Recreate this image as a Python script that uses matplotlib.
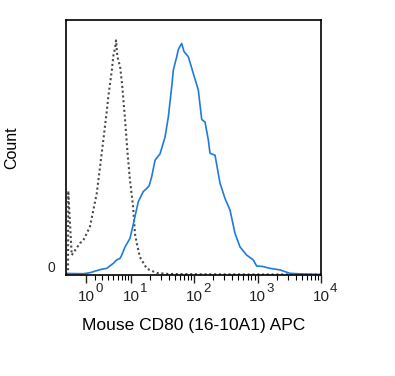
import numpy as np
import matplotlib
matplotlib.use("Agg")
import matplotlib.pyplot as plt
from matplotlib.ticker import FixedLocator

plt.rcParams['font.family'] = ['Liberation Sans', 'DejaVu Sans']

# ---- data ----
control_x = [-0.86, -0.84, -0.475, 0.37, 0.71, 1.44, 2.26, 2.47, 3.2, 3.74, 4.02, 4.66,
             4.99, 5.36, 5.56, 5.86, 6.11, 6.53, 7.07, 7.94, 8.73, 9.6, 10.75, 11.58,
             12.5, 13.9, 17.9, 25.7, 40, 100, 1000, 10000]
control_y = [0, 33, 7.8, 12.5, 13.5, 19, 32, 37, 53, 64, 70, 80,
             86, 89, 92, 86, 84, 82, 75, 61, 48, 37, 27, 16,
             12, 7, 2.5, 0.8, 0.4, 0.3, 0.2, 0.2]

cd80_x = [-1.08, 0.71, 1.44, 2.7, 3.74, 4.99, 5.73, 6.53, 6.98, 7.94, 9.6, 10.87,
          13.1, 15.7, 17.9, 19.5, 21.4, 24.2, 29.0, 34.8, 39.3, 44.4, 47.1, 53.3,
          56.5, 63.9, 69.5, 81.2, 97.4, 116.7, 132, 148.8, 167.7, 178.4, 213.9,
          256.3, 307.4, 368.5, 441.7, 529.9, 675, 857.6, 970, 1176, 1572, 2260,
          3245, 5200, 10000]
cd80_y = [0.6, 0.5, 0.9, 2.1, 2.6, 4.6, 5.9, 6.5, 7.8, 11, 14.4, 20,
          28.8, 32.7, 34, 35, 38.5, 45, 47.5, 54, 62, 73.8, 80.4, 85.6,
          88.5, 90.8, 87.6, 85.6, 79, 72.5, 61, 60, 53, 47.7, 47,
          36, 30, 25.5, 16.3, 11, 7.8, 5.9, 3.5, 3.4, 2.6, 2.0,
          0.65, 0.4, 0.2]

major_ticks = [1, 10, 100, 1000, 10000]
major_base = ['10', '10', '10', '10', '10']
major_exp = ['0', '1', '2', '3', '4']

x_label = 'Mouse CD80 (16-10A1) APC'
y_label = 'Count'

# ---- figure ----
W, H = 395, 376
fig = plt.figure(figsize=(W / 100, H / 100), dpi=100)
ax = fig.add_axes([66 / W, 1 - 275 / H, (321 - 66) / W, (275 - 20) / H])

A = 2.8
ax.set_xscale('function', functions=(lambda v: np.arcsinh(np.asarray(v) / A),
                                     lambda u: A * np.sinh(np.asarray(u))))

ax.plot(control_x, control_y, color='#4a4a4a', linestyle=(0, (1, 1.3)), linewidth=1.5)
ax.plot(cd80_x, cd80_y, color='#1f7ae0', linewidth=1.2)

ax.set_xlim(-1.08, 10000)
ax.set_ylim(0, 100)

ax.xaxis.set_major_locator(FixedLocator(major_ticks))
ax.set_xticklabels(major_base)
minor = [m * 10 ** d for d in range(4) for m in range(2, 10)]
ax.xaxis.set_minor_locator(FixedLocator(minor))
ax.tick_params(axis='x', which='major', length=6, width=1.0, direction='out',
               labelsize=11, pad=5, colors='#222222')
ax.tick_params(axis='x', which='minor', length=3.5, width=0.8, direction='out')

for t, e in zip(major_ticks, major_exp):
    ax.annotate(e, xy=(t, 0), xycoords=('data', 'axes fraction'),
                xytext=(6.5, -5.5), textcoords='offset points',
                ha='left', va='top', fontsize=9.5, color='#222222')

ax.set_yticks([0])
ax.set_yticklabels(['0'])
ax.tick_params(axis='y', length=0, labelsize=10, pad=8, colors='#222222')
for lab in ax.get_yticklabels():
    lab.set_va('bottom')

for s in ax.spines.values():
    s.set_linewidth(1.2)
    s.set_color('black')

ax.set_xlabel(x_label, fontsize=12.5, labelpad=10)
ax.set_ylabel(y_label, fontsize=11.5)
ax.yaxis.set_label_coords((19 - 66) / 255, 0.5)

fig.savefig('out.png', dpi=100)
